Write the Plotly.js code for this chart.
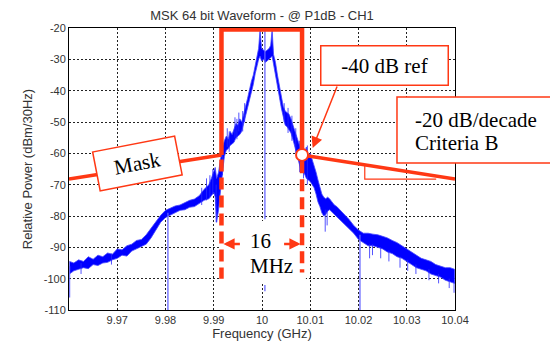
<!DOCTYPE html>
<html>
<head>
<meta charset="utf-8">
<script src="https://cdn.plot.ly/plotly-3.0.1.min.js"></script>
<style>html,body{margin:0;padding:0;background:#fff;}#chart{width:550px;height:341px;}</style>
</head>
<body>
<div id="chart"></div>
<script>
// ---- spectrum envelope (GHz, dBm/30Hz) ----
const freq = [
9.9601,9.9610,9.9620,9.9630,9.9640,9.9650,9.9660,9.9670,9.9680,9.9690,
9.9700,9.9710,9.9720,9.9730,9.9740,9.9750,9.9760,9.9770,9.9780,9.9790,
9.9800,9.9810,9.9820,9.9830,9.9840,9.9850,9.9860,9.9870,9.9880,9.9890,
9.9895,9.9900,9.9903,9.9906,9.9910,9.9914,9.9918,9.9922,9.9926,9.9930,
9.9934,9.9938,9.9942,9.9946,9.9950,9.9954,9.9958,9.9962,9.9966,9.9970,
9.9974,9.9978,9.9982,9.9986,9.9990,9.9993,9.9996,9.9999,10.0003,10.0007,
10.0011,10.0015,10.0018,10.0021,10.0024,10.0028,10.0032,10.0036,10.0040,10.0044,
10.0048,10.0052,10.0056,10.0060,10.0064,10.0068,10.0072,10.0076,10.0080,10.0084,
10.0088,10.0092,10.0096,10.0100,10.0104,10.0108,10.0112,10.0116,10.0120,10.0124,
10.0128,10.0132,10.0136,10.0140,10.0145,10.0150,10.0155,10.0160,10.0170,10.0180,
10.0190,10.0200,10.0210,10.0220,10.0230,10.0240,10.0250,10.0260,10.0270,10.0280,
10.0290,10.0300,10.0310,10.0320,10.0330,10.0340,10.0350,10.0360,10.0370,10.0380,
10.0390,10.0399];
const upper = [
-94.5,-95.0,-94.0,-94.5,-93.0,-93.8,-92.5,-93.0,-91.8,-92.2,
-90.5,-90.8,-89.5,-89.0,-87.8,-87.5,-86.0,-84.0,-82.0,-79.8,
-78.2,-77.5,-76.8,-76.5,-75.8,-75.0,-74.6,-73.5,-71.5,-70.0,
-68.0,-66.0,-64.5,-68.0,-66.0,-62.0,-58.0,-56.0,-54.5,-55.5,
-53.0,-54.0,-52.5,-50.5,-51.0,-49.0,-50.0,-47.0,-45.0,-42.5,
-39.5,-37.0,-35.0,-31.5,-28.5,-26.5,-20.5,-26.5,-27.0,-27.5,
-27.0,-26.5,-25.5,-20.5,-28.5,-31.0,-35.0,-38.5,-42.0,-45.0,
-46.5,-47.0,-47.5,-49.0,-51.0,-53.0,-55.0,-57.0,-58.5,-58.5,
-60.0,-58.0,-61.0,-60.0,-62.0,-63.5,-66.0,-68.5,-71.0,-73.0,
-74.0,-74.5,-74.0,-74.5,-75.5,-76.5,-77.0,-77.8,-79.5,-81.0,
-83.0,-84.5,-85.5,-85.5,-85.8,-86.0,-86.5,-87.0,-87.8,-88.5,
-89.5,-90.5,-91.5,-92.5,-93.5,-94.0,-94.5,-95.5,-96.0,-96.5,
-96.5,-97.0];
const lower = [
-98.5,-97.5,-97.0,-96.5,-96.8,-95.5,-95.8,-95.0,-94.8,-94.0,
-93.5,-92.5,-92.8,-91.2,-90.5,-89.8,-89.0,-87.0,-84.5,-82.0,
-80.5,-79.6,-79.0,-78.2,-78.0,-77.2,-77.0,-76.0,-75.0,-74.5,
-73.5,-72.5,-74.0,-82.0,-78.0,-72.0,-66.0,-61.0,-59.0,-58.5,
-57.5,-57.0,-56.5,-55.0,-54.5,-54.0,-53.0,-51.0,-48.5,-46.0,
-43.0,-40.5,-38.0,-34.5,-32.0,-30.0,-29.0,-30.5,-30.0,-31.0,
-30.5,-30.0,-29.5,-29.0,-32.0,-35.0,-38.5,-42.0,-45.5,-48.5,
-51.0,-51.5,-52.5,-53.5,-55.5,-57.5,-59.5,-62.5,-65.0,-66.0,
-66.5,-68.0,-68.5,-69.0,-70.0,-71.0,-73.0,-75.5,-77.0,-79.0,
-80.0,-79.5,-78.5,-78.0,-79.0,-79.5,-80.5,-81.0,-82.5,-84.0,
-85.5,-87.5,-88.5,-89.5,-89.5,-90.0,-90.5,-91.5,-92.0,-93.0,
-93.5,-94.5,-95.5,-96.5,-97.0,-97.5,-98.5,-99.0,-99.5,-100.5,
-101.0,-101.5];

// long light-blue spectral lines
const spikeX = [9.9601,9.9601,null,9.9805,9.9805,null,10.0006,10.0006,null,10.0006,10.0006,null,10.0203,10.0203];
const spikeY = [-96,-106,null,-79,-110,null,-20,-81,null,-102,-104,null,-86,-110];

// short noise teeth
const teethX = [9.9625,9.9625,null,9.9688,9.9688,null,9.9875,9.9875,null,9.9885,9.9885,null,9.9892,9.9892,null,9.9898,9.9898,null,
  9.9905,9.9905,null,9.9918,9.9918,null,9.9928,9.9928,null,9.9932,9.9932,null,9.9944,9.9944,null,9.9948,9.9948,null,9.9952,9.9952,null,
  9.9960,9.9960,null,9.9964,9.9964,null,10.0046,10.0046,null,10.0054,10.0054,null,10.0062,10.0062,null,10.0070,10.0070,null,10.0078,10.0078,null,
  10.0086,10.0086,null,10.0094,10.0094,null,10.0131,10.0131,null,10.0135,10.0135,null,10.0223,10.0223,null,10.0229,10.0229,null,10.0246,10.0246,null,
  10.0263,10.0263,null,10.0286,10.0286,null,10.0302,10.0302,null,10.0319,10.0319,null,10.0346,10.0346,null,10.0366,10.0366,null,10.0388,10.0388,null,10.0398,10.0398];
const teethY = [-95,-98.5,null,-92,-95.5,null,-71,-76.5,null,-68,-75,null,-67,-74,null,-65,-73,null,
  -70,-82,null,-58,-67,null,-52,-58,null,-53,-59.5,null,-48.5,-55,null,-49,-55.5,null,-47,-53,null,
  -46.5,-53,null,-44,-50,null,-44,-50,null,-45.5,-53.5,null,-48,-56,null,-52,-60,null,-56,-66,null,
  -57,-68,null,-57.5,-70,null,-78,-85,null,-78,-83,null,-89,-93.5,null,-89,-92.5,null,-90,-93.5,null,
  -91,-94.5,null,-93,-96.5,null,-94,-97.5,null,-95.5,-98.5,null,-97,-100.5,null,-98.5,-101.5,null,-100,-103,null,-101,-104.5];

// mask (GHz, dB)
const maskBoxX = [9.9916, 9.9916, 10.0083, 10.0083];
const maskBoxY = [-60.5, -20.5, -20.5, -60.5];
const maskSlopeX = [9.96, 9.9916, null, 10.0083, 10.04];
const maskSlopeY = [-68.2, -60.5, null, -60.5, -68.2];
const maskDashX = [9.9916, 9.9916, null, 10.0083, 10.0083];
const maskDashY = [-62, -100, null, -62.5, -98];
const refPointX = [10.0083];
const refPointY = [-60.5];
const slopeTriX = [10.0213, 10.0213, 10.0361];
const slopeTriY = [-63.7, -68.2, -68.2];
const labelBgX = [9.9911, 10.0091, 10.0091, 9.9911, 9.9911];
const labelBgY = [-81.6, -81.6, -101.6, -101.6, -81.6];

const xTicks = [9.97, 9.98, 9.99, 10.0, 10.01, 10.02, 10.03, 10.04];
const xTickText = ['9.97','9.98','9.99','10','10.01','10.02','10.03','10.04'];
const yTicks = [-110,-100,-90,-80,-70,-60,-50,-40,-30,-20];
const yTickText = ['-110','-100','-90','-80','-70','-60','-50','-40','-30','-20'];

const RED = '#ff3814';
const BLUE = '#0000ff';
const SERIF = '"Liberation Serif", "Times New Roman", serif';

const bandX = freq.concat(freq.slice().reverse());
const bandY = upper.concat(lower.slice().reverse());

const traces = [
  {x: bandX, y: bandY, type:'scatter', mode:'lines', fill:'toself', fillcolor:BLUE,
   line:{color:'rgba(70,70,255,0.8)', width:1}, hoverinfo:'skip'},
  {x: teethX, y: teethY, type:'scatter', mode:'lines', line:{color:'rgba(40,40,255,0.8)', width:1}, hoverinfo:'skip'},
  {x: spikeX, y: spikeY, type:'scatter', mode:'lines', line:{color:'rgba(100,100,255,0.85)', width:1.5}, hoverinfo:'skip'},
  {x: labelBgX, y: labelBgY, type:'scatter', mode:'lines', fill:'toself', fillcolor:'#ffffff', line:{width:0, color:'#ffffff'}, hoverinfo:'skip'},
  {x: slopeTriX, y: slopeTriY, type:'scatter', mode:'lines', line:{color:RED, width:1.2}, hoverinfo:'skip'},
  {x: maskSlopeX, y: maskSlopeY, type:'scatter', mode:'lines', line:{color:RED, width:3.5}, hoverinfo:'skip'},
  {x: maskBoxX, y: maskBoxY, type:'scatter', mode:'lines', line:{color:RED, width:4.5}, hoverinfo:'skip'},
  {x: maskDashX, y: maskDashY, type:'scatter', mode:'lines', line:{color:RED, width:4.5, dash:'12px,6px'}, hoverinfo:'skip'},
  {x: refPointX, y: refPointY, type:'scatter', mode:'markers', cliponaxis:false,
   marker:{size:12, color:'#ffffff', line:{color:RED, width:2}}, hoverinfo:'skip'}
];

const layout = {
  width:550, height:341,
  margin:{l:69, r:95, t:28, b:31, pad:0},
  paper_bgcolor:'#ffffff', plot_bgcolor:'#ffffff',
  showlegend:false,
  font:{family:'"Liberation Sans", Arial, sans-serif', color:'#333'},
  title:{text:'MSK 64 bit Waveform - @ P1dB - CH1', font:{size:13, color:'#333'},
         x:0.5, xref:'paper', xanchor:'center', y:1-15/341, yref:'container', yanchor:'middle'},
  xaxis:{range:[9.96,10.04], tickvals:xTicks, ticktext:xTickText, showgrid:true,
         gridcolor:'#222', griddash:'2px,2px', gridwidth:1, zeroline:false,
         showline:true, mirror:true, linecolor:'#000', linewidth:1, ticks:'', layer:'below traces',
         tickfont:{size:11, color:'#333'},
         title:{text:'Frequency (GHz)', font:{size:13, color:'#333'}, standoff:5}},
  yaxis:{range:[-110,-20], tickvals:yTicks, ticktext:yTickText, showgrid:true,
         gridcolor:'#222', griddash:'2px,2px', gridwidth:1, zeroline:false,
         showline:true, mirror:true, linecolor:'#000', linewidth:1, ticks:'', layer:'below traces',
         tickfont:{size:11, color:'#333'},
         title:{text:'Relative Power (dBm/30Hz)', font:{size:13, color:'#333'}, standoff:8}},
  shapes:[
    {type:'rect', xref:'paper', yref:'paper', x0:0.8497, x1:1.3, y0:0.5213, y1:0.7553,
     fillcolor:'#ffffff', line:{color:RED, width:1.5}, layer:'above'}
  ],
  annotations:[
    {x:9.9741, y:-63.4, xref:'x', yref:'y', text:'Mask', showarrow:false, textangle:-11,
     width:80, height:36, bgcolor:'#ffffff', bordercolor:RED, borderwidth:1.5, borderpad:1,
     font:{family:SERIF, size:21, color:'#000'}},
    {x:10.0253, y:-32.0, xref:'x', yref:'y', text:'-40 dB ref', showarrow:false,
     width:124, height:36, bgcolor:'#ffffff', bordercolor:RED, borderwidth:1.5, borderpad:1,
     font:{family:SERIF, size:21, color:'#000'}},
    {x:10.0105, y:-58.3, xref:'x', yref:'y', text:'', showarrow:true, ax:25, ay:-63,
     arrowhead:2, arrowsize:1.5, arrowwidth:1.5, arrowcolor:RED},
    {x:0.8497+16/386, y:(310-120)/282, xref:'paper', yref:'paper', xanchor:'left', yanchor:'middle',
     text:'-20 dB/decade', showarrow:false, font:{family:SERIF, size:21, color:'#000'}},
    {x:0.8497+16/386, y:(310-143)/282, xref:'paper', yref:'paper', xanchor:'left', yanchor:'middle',
     text:'Criteria B', showarrow:false, font:{family:SERIF, size:21, color:'#000'}},
    {x:9.9971, y:-88.0, xref:'x', yref:'y', xanchor:'left', text:'16', showarrow:false,
     font:{family:SERIF, size:21, color:'#000'}},
    {x:9.9970, y:-96.0, xref:'x', yref:'y', xanchor:'left', text:'MHz', showarrow:false,
     font:{family:SERIF, size:21, color:'#000'}},
    {x:9.9920, y:-88.9, xref:'x', yref:'y', text:'', showarrow:true, ax:18, ay:0,
     arrowhead:2, arrowsize:0.9, arrowwidth:2.5, arrowcolor:RED},
    {x:10.0080, y:-88.9, xref:'x', yref:'y', text:'', showarrow:true, ax:-18, ay:0,
     arrowhead:2, arrowsize:0.9, arrowwidth:2.5, arrowcolor:RED}
  ]
};

Plotly.newPlot('chart', traces, layout, {displayModeBar:false, staticPlot:true});
</script>
</body>
</html>
